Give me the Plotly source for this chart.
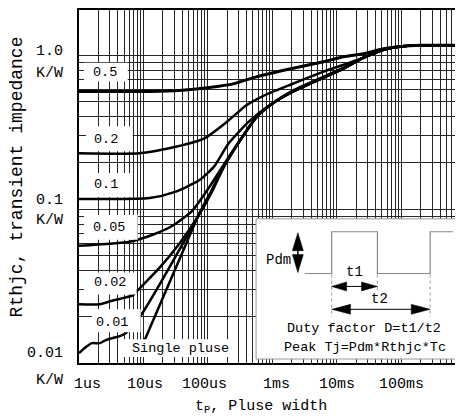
import math
import plotly.graph_objects as go

# ---------------- data (pulse width in s, Zth in K/W) ----------------
t_d05 = [1e-6, 1.25e-5, 3.6e-5, 1.05e-4, 2.55e-4, 5.8e-4, 1.94e-3, 6.25e-3, 1.27e-2, 2.6e-2, 5.3e-2, 9.0e-2, 0.204, 0.84]
z_d05 = [0.582, 0.582, 0.590, 0.617, 0.655, 0.727, 0.819, 0.909, 0.979, 1.024, 1.103, 1.137, 1.162, 1.162]

t_d02 = [1e-6, 8.7e-6, 2.5e-5, 8.8e-5, 2.1e-4, 3.9e-4, 6.9e-4, 1.94e-3, 6.25e-3, 1.27e-2, 2.6e-2, 5.3e-2, 9.0e-2, 0.204, 0.84]
z_d02 = [0.231, 0.231, 0.249, 0.289, 0.378, 0.472, 0.540, 0.646, 0.783, 0.869, 0.965, 1.086, 1.137, 1.162, 1.162]

t_d01 = [1e-6, 1.25e-5, 3.0e-5, 7.4e-5, 1.26e-4, 2.1e-4, 4.35e-4, 8.9e-4, 1.94e-3, 6.25e-3, 1.27e-2, 2.6e-2, 5.3e-2, 9.0e-2, 0.204, 0.84]
z_d01 = [0.1166, 0.118, 0.129, 0.1546, 0.1905, 0.268, 0.372, 0.472, 0.582, 0.727, 0.832, 0.965, 1.086, 1.137, 1.162, 1.162]

t_d005 = [1e-6, 6.1e-6, 1.39e-5, 2.82e-5, 5.7e-5, 1.05e-4, 1.79e-4, 3.65e-4, 5.8e-4, 1.06e-3, 1.94e-3, 6.25e-3, 1.27e-2, 2.6e-2, 5.3e-2, 9.0e-2, 0.204, 0.84]
z_d005 = [0.0579, 0.0615, 0.0682, 0.078, 0.0975, 0.139, 0.197, 0.307, 0.401, 0.494, 0.573, 0.716, 0.819, 0.965, 1.086, 1.137, 1.162, 1.162]

t_d002 = [1e-6, 2.1e-6, 3.35e-6, 6.8e-6, 8.1e-6, 1.78e-5, 3.6e-5, 7.4e-5, 1.17e-4, 1.79e-4, 3.65e-4, 5.8e-4, 1.06e-3, 1.94e-3, 6.25e-3, 1.27e-2, 2.6e-2, 5.3e-2, 9.0e-2, 0.204, 0.84]
z_d002 = [0.0241, 0.0241, 0.0255, 0.0275, 0.0296, 0.0417, 0.0597, 0.0932, 0.131, 0.1905, 0.307, 0.401, 0.494, 0.573, 0.716, 0.819, 0.965, 1.086, 1.137, 1.162, 1.162]

t_d001 = [1e-6, 1.28e-6, 1.59e-6, 2.1e-6, 2.61e-6, 3.23e-6, 4.3e-6, 5.3e-6, 8.7e-6, 7.4e-5, 1.17e-4, 1.79e-4, 3.65e-4, 5.8e-4, 1.06e-3, 1.94e-3, 6.25e-3, 1.27e-2, 2.6e-2, 5.3e-2, 9.0e-2, 0.204, 0.84]
z_d001 = [0.0116, 0.0127, 0.01346, 0.01346, 0.0141, 0.0145, 0.01494, 0.0156, 0.0198, 0.0932, 0.1333, 0.1905, 0.307, 0.401, 0.494, 0.573, 0.716, 0.819, 0.965, 1.086, 1.137, 1.162, 1.162]

t_single = [1.045e-5, 4.81e-5, 7.4e-5, 1.17e-4, 1.79e-4, 3.65e-4, 5.8e-4, 1.06e-3, 1.94e-3, 6.25e-3, 1.27e-2, 2.6e-2, 5.3e-2, 9.0e-2, 0.204, 0.84]
z_single = [0.0141, 0.0624, 0.0946, 0.1352, 0.193, 0.307, 0.401, 0.494, 0.573, 0.716, 0.819, 0.965, 1.086, 1.137, 1.162, 1.162]

x_tick_vals = [1e-6, 1e-5, 1e-4, 1e-3, 1e-2, 1e-1]
x_tick_text = ["1us", "10us", "100us", "1ms", "10ms", "100ms"]
y_tick_vals = [1.0, 0.1, 0.01]
y_tick_text = ["1.0", "0.1", "0.01"]
y_unit = "K/W"

# ---------------- layout geometry ----------------
# page body has an 8px margin, so the figure is made 8px smaller and all
# screen-pixel positions below are given in window coordinates.
OFF = 8
W, H = 463 - OFF, 419 - OFF
ML, MR, MT, MB = 79 - OFF, 0, 0, 56
PW, PH = W - ML - MR, H - MT - MB          # 384 x 355
X_LEFT, Y_BOTTOM = 79, 363                # window px of plot left / bottom
Y_DECADE = 154.7
FONT = "Liberation Mono"

def px(X):
    return (X - X_LEFT) / PW

def py(Y):
    return (Y_BOTTOM - Y) / PH

fig = go.Figure()
series = [
    (t_d05, z_d05, 3.0), (t_d02, z_d02, 2.5), (t_d01, z_d01, 2.5),
    (t_d005, z_d005, 2.5), (t_d002, z_d002, 2.5), (t_d001, z_d001, 2.5),
    (t_single, z_single, 2.5),
]
for tx, zy, lw in series:
    fig.add_trace(go.Scatter(x=tx, y=zy, mode="lines",
                             line=dict(color="black", width=lw, shape="spline", smoothing=0.6),
                             hoverinfo="skip"))

grid_x = [m * 10 ** e for e in range(-6, 0) for m in range(1, 10)]
grid_y = [m * 10 ** e for e in range(-2, 1) for m in range(1, 10)] + [2]

fig.update_xaxes(type="log", range=[-6, -6 + PW / 64.8], tickvals=grid_x, showticklabels=False,
                 showgrid=True, gridcolor="#262626", gridwidth=1, ticks="",
                 showline=True, linecolor="black", linewidth=1.5, mirror=True, zeroline=False)
fig.update_yaxes(type="log", range=[-2, -2 + PH / Y_DECADE], tickvals=grid_y, showticklabels=False,
                 showgrid=True, gridcolor="#262626", gridwidth=1, ticks="",
                 showline=True, linecolor="black", linewidth=1.5, mirror=True, zeroline=False)

shapes = []
anns = []

def rect(x0, x1, y0, y1, line=None):
    shapes.append(dict(type="rect", xref="paper", yref="paper", layer="above",
                       x0=px(x0), x1=px(x1), y0=py(y1), y1=py(y0),
                       fillcolor="white", line=line or dict(width=0)))

def text(X, Y, s, size=14, **kw):
    anns.append(dict(xref="paper", yref="paper", x=px(X), y=py(Y), text=s, showarrow=False,
                     font=dict(family=FONT, size=size, color="black"),
                     xanchor=kw.pop("xanchor", "center"), yanchor="middle", **kw))

def path(pts, fill=None, color="black", width=1, dash=None, close=False):
    d = "M " + " L ".join(f"{px(a):.5f},{py(b):.5f}" for a, b in pts) + (" Z" if close else "")
    ln = dict(color=color, width=width)
    if dash:
        ln["dash"] = dash
    shapes.append(dict(type="path", xref="paper", yref="paper", layer="above", path=d,
                       fillcolor=fill if fill else "rgba(0,0,0,0)", line=ln))

# curve labels
labels = [("0.5", 84, 128, 61, 80, 105, 71),
          ("0.2", 86, 133, 125, 150, 106, 138),
          ("0.1", 86, 133, 172, 196, 106, 183),
          ("0.05", 84, 138, 214, 239, 109, 227),
          ("0.02", 84, 137, 272, 294, 110, 282),
          ("0.01", 92, 141, 309, 332, 112, 322),
          ("Single pluse", 124, 234, 339, 357, 181, 348)]
for s, x0, x1, y0, y1, tx, ty in labels:
    rect(x0, x1, y0, y1)
    text(tx, ty, s, size=13.5)

# inset
rect(257, 470, 218, 359, line=dict(color="#999999", width=1))
path([(306, 273), (333, 273), (333, 231), (379, 231), (379, 273), (432, 273), (432, 231), (455, 231)],
     color="#888888", width=1.2)
for xx, yb in [(333, 317), (379, 291), (432, 317)]:
    path([(xx, 274), (xx, yb)], color="#999999", width=1, dash="dot")
# Pdm arrow
path([(299, 232), (293.5, 250), (304.5, 250)], fill="black", close=True, width=0.5)
path([(299, 272), (293.5, 254), (304.5, 254)], fill="black", close=True, width=0.5)
path([(299, 249), (299, 255)], width=1.5)
# t1 arrow
path([(333, 286), (348, 281.5), (348, 290.5)], fill="black", close=True, width=0.5)
path([(379, 286), (363, 281.5), (363, 290.5)], fill="black", close=True, width=0.5)
path([(347, 286), (364, 286)], width=1)
# t2 arrow
path([(333, 309), (352, 304), (352, 314)], fill="black", close=True, width=0.5)
path([(432, 309), (413, 304), (413, 314)], fill="black", close=True, width=0.5)
path([(351, 309), (414, 309)], width=1)

text(280, 259, "Pdm", size=14)
text(356, 271, "t1", size=14)
text(381, 299, "t2", size=14)
text(365, 328, "Duty factor D=t1/t2", size=13.5)
text(366, 347, "Peak Tj=Pdm*Rthjc*Tc", size=13.5)

# tick labels
x_tick_shift = [8, 2, -3, 4, 0, 0]
for v, s, sh in zip(x_tick_vals, x_tick_text, x_tick_shift):
    anns.append(dict(xref="x", yref="paper", x=math.log10(v), y=py(385), text=s, showarrow=False,
                     xshift=sh, font=dict(family=FONT, size=15, color="black"),
                     xanchor="center", yanchor="middle"))
num_shift = [4, 9, 10]
unit_shift = [-18, -11, -17]
for v, s, a, b in zip(y_tick_vals, y_tick_text, num_shift, unit_shift):
    for lab, sh in ((s, a), (y_unit, b)):
        anns.append(dict(xref="paper", yref="y", x=px(65), y=math.log10(v), text=lab, showarrow=False,
                         yshift=sh, font=dict(family=FONT, size=15, color="black"),
                         xanchor="right", yanchor="middle"))

# axis titles
text(17, 176, "Rthjc, transient impedance", size=18, textangle=-90)
text(262, 407, "t<sub>P</sub>, Pluse width", size=15)

fig.update_layout(width=W, height=H, margin=dict(l=ML, r=MR, t=MT, b=MB, pad=0),
                  plot_bgcolor="white", paper_bgcolor="white", showlegend=False,
                  shapes=shapes, annotations=anns)

fig.write_html("out.html")
